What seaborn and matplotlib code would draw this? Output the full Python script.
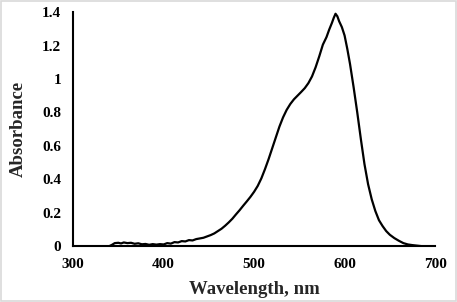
import numpy as np
import pandas as pd
import matplotlib
matplotlib.use('Agg')
import matplotlib.pyplot as plt
import seaborn as sns
from matplotlib.patches import Rectangle

# spectrum
wavelength = [340, 343, 346, 350, 353, 356, 360, 364, 368, 372, 376, 380, 384, 388,
              392, 396, 400, 404, 408, 412, 416, 420, 424, 428, 432, 436, 440, 444,
              448, 452, 456, 460, 464, 468, 472, 476, 480, 484, 488, 492, 496, 500,
              504, 508, 512, 516, 520, 524, 528, 532, 536, 540, 544, 548, 552, 556,
              560, 564, 568, 572, 576, 580, 583, 586, 588, 590, 592, 594, 597, 600,
              603, 606, 610, 614, 618, 622, 626, 630, 634, 638, 642, 646, 650, 655,
              660, 665, 670, 675, 680, 685]
absorbance = [0.000, 0.008, 0.018, 0.020, 0.016, 0.022, 0.018, 0.020, 0.014, 0.017,
              0.011, 0.013, 0.008, 0.012, 0.009, 0.012, 0.010, 0.018, 0.015, 0.024,
              0.022, 0.030, 0.028, 0.036, 0.034, 0.042, 0.046, 0.050, 0.058, 0.066,
              0.076, 0.090, 0.104, 0.122, 0.142, 0.164, 0.190, 0.215, 0.242, 0.268,
              0.295, 0.325, 0.360, 0.405, 0.460, 0.520, 0.585, 0.650, 0.715, 0.770,
              0.815, 0.850, 0.878, 0.900, 0.922, 0.945, 0.975, 1.015, 1.070, 1.135,
              1.205, 1.250, 1.295, 1.335, 1.365, 1.390, 1.375, 1.345, 1.310, 1.260,
              1.180, 1.090, 0.950, 0.800, 0.640, 0.490, 0.370, 0.280, 0.210, 0.155,
              0.120, 0.090, 0.068, 0.048, 0.032, 0.018, 0.010, 0.006, 0.003, 0.000]
x_ticks = [300, 400, 500, 600, 700]
y_ticks = [0, 0.2, 0.4, 0.6, 0.8, 1.0, 1.2, 1.4]
y_tick_labels = ['0', '0.2', '0.4', '0.6', '0.8', '1', '1.2', '1.4']

sns.set_style('white')
plt.rcParams['font.family'] = ['Liberation Serif', 'DejaVu Serif']
plt.rcParams['font.weight'] = 'bold'

df = pd.DataFrame({'wavelength': wavelength, 'absorbance': absorbance})

fig = plt.figure(figsize=(4.57, 3.02), dpi=100)
ax = fig.add_axes([0.16, 0.185, 0.792, 0.775])
sns.lineplot(data=df, x='wavelength', y='absorbance', ax=ax, color='black', linewidth=1.6)

ax.set_xlim(300, 700)
ax.set_ylim(0, 1.4)
ax.set_xticks(x_ticks)
ax.set_xticklabels([str(t) for t in x_ticks], fontsize=11, fontweight='bold')
ax.set_yticks(y_ticks)
ax.set_yticklabels(y_tick_labels, fontsize=11, fontweight='bold')
ax.set_xlabel('Wavelength, nm', fontsize=13.5, fontweight='bold', labelpad=7)
ax.set_ylabel('Absorbance', fontsize=13.5, fontweight='bold', labelpad=11)

sns.despine(ax=ax)
for side in ['left', 'bottom']:
    ax.spines[side].set_color('black')
    ax.spines[side].set_linewidth(1.5)
ax.tick_params(axis='both', direction='inout', length=7, width=1.2, colors='black')
ax.tick_params(axis='x', pad=5)
ax.tick_params(axis='y', pad=5)

fig.patches.append(Rectangle((0.002, 0.003), 0.995, 0.993, transform=fig.transFigure,
                             fill=False, edgecolor='#d9d9d9', linewidth=1.2))

fig.savefig('out.png', dpi=100)
